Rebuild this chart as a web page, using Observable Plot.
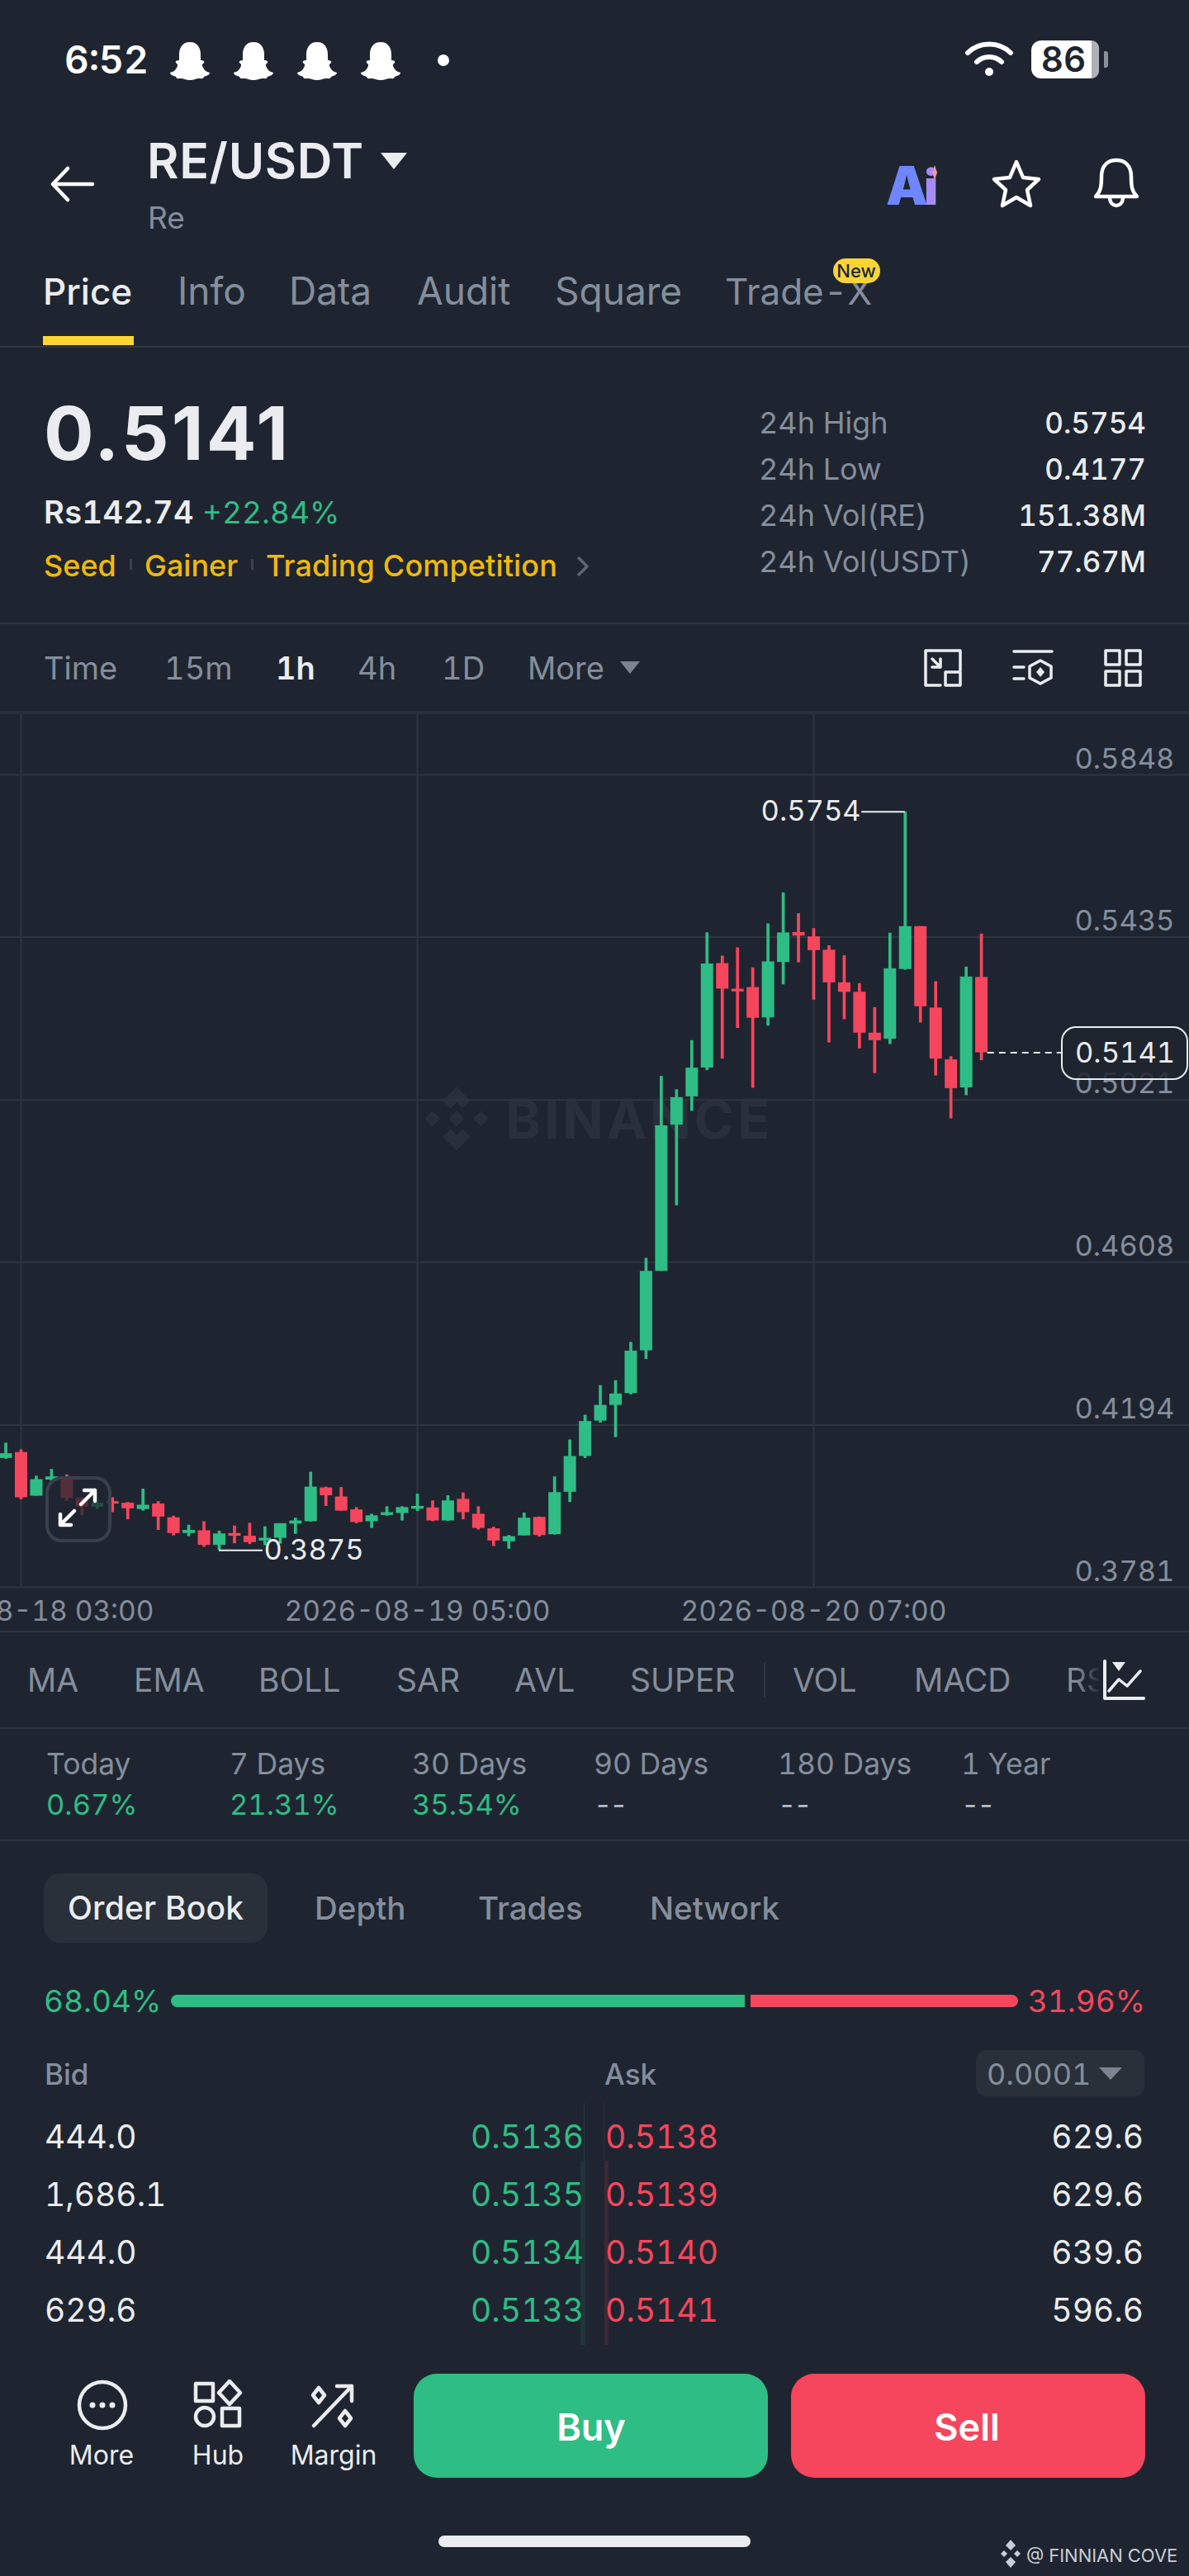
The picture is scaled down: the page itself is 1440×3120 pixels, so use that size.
<!DOCTYPE html>
<html><head><meta charset="utf-8">
<script src="https://cdn.jsdelivr.net/npm/d3@7"></script>
<script src="https://cdn.jsdelivr.net/npm/@observablehq/plot@0.6"></script>
<style>
html,body{margin:0;padding:0;background:#1f2530;}
#page{position:relative;width:1440px;height:3120px;overflow:hidden;background:#1f2530;font-family:Inter,"Noto Sans",sans-serif;font-variant-numeric:tabular-nums;}
.t{position:absolute;line-height:0;white-space:nowrap;}
.b{position:absolute;}
#chart{position:absolute;left:0;top:865px;width:1440px;}
#chart svg{display:block;background:transparent;}
</style></head><body><div id="page"></div>
<script>
// hourly candles, starting 2026-08-18 02:00
const firstHour = "2026-08-18T02:00:00Z";
const open  = [.4109,.4124,.4013,.4054,.4056,.4007,.3985,.3999,.3995,.3979,.3993,.3958,.3918,.3925,.3888,.3918,.3911,.3899,.3906,.3942,.3948,.4034,.4011,.3978,.3948,.3964,.3969,.3980,.3983,.3950,.4005,.3967,.3930,.3897,.3912,.3959,.3915,.4023,.4114,.4204,.4244,.4274,.4383,.4585,.4957,.5029,.5102,.5368,.5303,.5307,.5230,.5371,.5447,.5436,.5402,.5319,.5295,.5191,.5176,.5353,.5462,.5255,.5123,.5052,.5333];
const high  = [.4148,.4131,.4064,.4081,.4067,.4009,.3999,.4009,.3997,.4031,.3999,.3962,.3939,.3948,.3924,.3937,.3944,.3935,.3943,.3957,.4074,.4036,.4035,.3984,.3967,.3986,.3986,.4018,.4001,.4014,.4021,.3986,.3934,.3913,.3970,.3960,.4062,.4156,.4219,.4294,.4307,.4404,.4618,.5081,.5047,.5172,.5446,.5387,.5408,.5357,.5469,.5548,.5495,.5457,.5413,.5388,.5317,.5256,.5445,.5754,.5462,.5322,.5131,.5359,.5443];
const low   = [.4107,.4004,.4013,.4051,.4000,.3963,.3979,.3971,.3953,.3975,.3926,.3912,.3910,.3883,.3875,.3892,.3890,.3887,.3891,.3916,.3947,.3987,.3975,.3943,.3931,.3962,.3950,.3974,.3948,.3949,.3953,.3927,.3885,.3878,.3912,.3909,.3914,.3997,.4109,.4199,.4162,.4271,.4361,.4585,.4752,.4992,.5096,.5125,.5203,.5051,.5209,.5314,.5370,.5275,.5166,.5225,.5151,.5088,.5162,.5351,.5217,.5082,.4973,.5032,.5121];
const close = [.4121,.4009,.4055,.4062,.4007,.3985,.3995,.3993,.3981,.3990,.3960,.3918,.3926,.3888,.3917,.3911,.3895,.3906,.3943,.3950,.4036,.4014,.3975,.3946,.3963,.3971,.3984,.3987,.3950,.4001,.3971,.3931,.3899,.3910,.3957,.3913,.4022,.4114,.4203,.4244,.4273,.4382,.4585,.4955,.5027,.5102,.5367,.5303,.5296,.5229,.5372,.5446,.5438,.5401,.5319,.5295,.5191,.5172,.5355,.5462,.5258,.5125,.5050,.5334,.5141];

const yTicks = [.5848,.5435,.5021,.4608,.4194,.3781];
const yDomain = [.3781,.60013];
const xTicks = ["2026-08-18T03:00:00Z","2026-08-19T05:00:00Z","2026-08-20T07:00:00Z"];
const xDomain = ["2026-08-18T01:38:45Z","2026-08-21T07:38:45Z"];

const highMark = {value:.5754, from:"2026-08-20T13:00:00Z", to:"2026-08-20T10:09:00Z"};
const lowMark  = {value:.3875, from:"2026-08-18T16:00:00Z", to:"2026-08-18T18:52:00Z"};
const lastMark = {value:.5141, from:"2026-08-20T18:25:00Z", to:"2026-08-20T23:15:00Z"};

const tabs = [["Price",52,44],["Info",215,46],["Data",350,46],["Audit",505,46],["Square",672,46],["Trade-X",878,44]];
const stats = [["24h High","0.5754"],["24h Low","0.4177"],["24h Vol(RE)","151.38M"],["24h Vol(USDT)","77.67M"]];
const frames = [["Time",53],["15m",199],["1h",334],["4h",433],["1D",535],["More",639]];
const indicators = [["MA",33],["EMA",162],["BOLL",313],["SAR",480],["AVL",623],["SUPER",763],["VOL",960],["MACD",1107]];
const periods = [["Today","0.67%",56],["7 Days","21.31%",278],["30 Days","35.54%",499],["90 Days","--",719],["180 Days","--",942],["1 Year","--",1164]];
const bookTabs = [["Depth",381],["Trades",579],["Network",787]];
const bidQty = ["444.0","1,686.1","444.0","629.6"];
const bidPrice = ["0.5136","0.5135","0.5134","0.5133"];
const askPrice = ["0.5138","0.5139","0.5140","0.5141"];
const askQty = ["629.6","629.6","639.6","596.6"];
const rowBase = [2602,2672,2742,2812];

const GREEN="#2ebd85",RED="#f6465d",WHITE="#eaecef",GRAY="#848e9c",LINE="#2f3540",YEL="#f0b90b";
const page=document.getElementById("page");
function T(x,base,s,size,color,w=400,anchor="start",ls=0){
  const e=document.createElement("div");e.className="t";e.textContent=s;
  e.style.top=(base-0.364*size)+"px";e.style.fontSize=size+"px";e.style.color=color;e.style.fontWeight=w;
  if(ls)e.style.letterSpacing=ls+"px";
  if(anchor==="start")e.style.left=x+"px";
  else if(anchor==="end")e.style.right=(1440-x)+"px";
  else{e.style.left=x+"px";e.style.transform="translateX(-50%)";}
  page.appendChild(e);return e;
}
function B(x,y,w,h,bg,r=0,extra=""){
  const e=document.createElement("div");e.className="b";
  e.style.cssText=`left:${x}px;top:${y}px;width:${w}px;height:${h}px;background:${bg};border-radius:${r};${extra}`;
  page.appendChild(e);return e;
}
function I(x,y,w,h,vb,inner){
  const d=document.createElement("div");d.className="b";d.style.cssText=`left:${x}px;top:${y}px;width:${w}px;height:${h}px;`;
  d.innerHTML=`<svg xmlns="http://www.w3.org/2000/svg" width="${w}" height="${h}" viewBox="${vb}" style="display:block">${inner}</svg>`;
  page.appendChild(d);return d;
}
const s=(c=WHITE,w=4)=>`fill="none" stroke="${c}" stroke-width="${w}" stroke-linecap="round" stroke-linejoin="round"`;

// status bar
T(78,89,"6:52",46,"#fff",600);
const ghost='<path fill="#fff" d="M24 0C14 0 11 8 11 15C11 19 11 20 11 22C8 22 6 23 7 25C9 27 10 27 8 31C6 35 3 36 0 37C0 40 5 41 7 42C8 45 10 44 13 44C16 44 19 46 24 46C29 46 32 44 35 44C38 44 40 45 41 42C43 41 48 40 48 37C45 36 42 35 40 31C38 27 39 27 41 25C42 23 40 22 37 22C37 20 37 19 37 15C37 8 34 0 24 0Z"/>';
[206,283,360,437].forEach(x=>I(x,51,48,46,"0 0 48 46",ghost));
B(530,66,14,14,"#fff","50%");
I(1168,49,60,46,"0 0 60 46",`<path ${s("#fff",6)} d="M4 15C18 1 42 1 56 15"/><path ${s("#fff",6)} d="M15 26C23 18 37 18 45 26"/><circle cx="30" cy="38" r="5" fill="#fff"/>`);
B(1249,49,82,46,"#fff","12px");
B(1322,49,9,46,"#aeb2b8","0 12px 12px 0");
B(1337,62,5,20,"#8b9098","0 3px 3px 0");
T(1288,87,"86",42,"#1f2530",600,"middle");

// header
I(60,200,56,46,"0 0 56 46",`<path ${s("#fff",4.5)} d="M52 23H4M22 4L4 23L22 42"/>`);
T(178,216,"RE/USDT",59,WHITE,600,"start",.7);
I(461,185,32,20,"0 0 32 20",`<path fill="${WHITE}" d="M0 0H32L16 20Z"/>`);
T(179,277,"Re",37,GRAY);
T(1073,248,"A",64,"#6f86ff",900);
T(1119,248,"i",58,"#a48bf5",900);
I(1126,200,12,18,"0 0 12 18",`<path fill="#e89aa0" d="M6 0L9 9L6 18L3 9Z"/>`);
I(1200,193,62,60,"0 0 62 60",`<path ${s("#fff",4.5)} d="M31 3L39 22L58 24L44 37L48 56L31 46L14 56L18 37L4 24L23 22Z"/>`);
I(1321,190,62,64,"0 0 62 64",`<path ${s("#fff",4.5)} d="M6 48C12 42 13 36 13 24C13 10 21 4 31 4C41 4 49 10 49 24C49 36 50 42 56 48Z"/><path ${s("#fff",4.5)} d="M23 50C24 62 38 62 39 50"/>`);

// tabs
tabs.forEach(([n,x,z],i)=>T(x,369,n,z,i?GRAY:WHITE,i?400:500));
B(1009,313,57,30,"#fcd535","15px");
T(1037,336,"New",22,"#1f2530",500,"middle");
B(52,407,110,11,"#fcd535");
B(0,419,1440,2,LINE);

// price block
const big=T(53,558,"0.5141",90,WHITE,700,"start",3.2);big.style.fontVariantNumeric="proportional-nums";
T(53,634,"Rs142.74",38,WHITE,600,"start",.4);
T(245,634,"+22.84%",37,GREEN);
T(53,698,"Seed",36,YEL,500);T(175,698,"Gainer",36,YEL,500);T(322,698,"Trading Competition",36,YEL,500,"start",.15);
B(157,677,3,13,"#3a414d");B(304,677,3,13,"#3a414d");
I(698,673,16,26,"0 0 16 26",`<path ${s("#5e6673",3.5)} d="M3 3L13 13L3 23"/>`);
stats.forEach(([a,b],i)=>{const y=[525,581,637,693][i];T(919,y,a,36,GRAY);T(1388,y,b,35,WHITE,500,"end");});
B(0,754,1440,2,LINE);

// timeframes
frames.forEach(([n,x])=>T(x,823,n,38,n==="1h"?WHITE:GRAY,n==="1h"?600:400));
I(751,801,24,15,"0 0 24 15",`<path fill="#7c8492" d="M0 0H24L12 15Z"/>`);
I(1119,786,46,46,"0 0 46 46",`<path ${s(WHITE,3.5)} d="M44 26V2H2V44H20"/><rect x="26" y="28" width="18" height="16" ${s(WHITE,3.5)}/><path ${s(WHITE,3.5)} d="M10 12L20 22M20 12V22H10"/>`);
I(1226,786,50,46,"0 0 50 46",`<path ${s(WHITE,3.5)} d="M2 3H48M2 22H14M2 36H14"/><path ${s(WHITE,3.5)} d="M34 14L47 21V35L34 42L21 35V21Z"/><path fill="${WHITE}" d="M34 22L39 28L34 34L29 28Z"/>`);
I(1337,786,46,46,"0 0 46 46",`<g ${s(WHITE,3.5)}><rect x="2" y="2" width="17" height="17"/><rect x="27" y="2" width="17" height="17"/><rect x="2" y="27" width="17" height="17"/><rect x="27" y="27" width="17" height="17"/></g>`);
B(0,861,1440,4,"#2a303b");

// watermark under the chart
I(510,1312,86,86,"0 0 82 82",`<g fill="#2a303b"><path d="M41 4L57 20L48 29L41 22L34 29L25 20Z"/><path d="M41 78L57 62L48 53L41 60L34 53L25 62Z"/><path d="M4 41L13 32L22 41L13 50Z"/><path d="M60 41L69 32L78 41L69 50Z"/><path d="M41 32L50 41L41 50L32 41Z"/></g>`);
T(612,1380,"BINANCE",65,"#2a303b",700,"start",4);

// chart
const chartDiv=document.createElement("div");chartDiv.id="chart";page.appendChild(chartDiv);
const t0=new Date(firstHour);
const candles=open.map((o,i)=>({t:d3.utcHour.offset(t0,i),o,h:high[i],l:low[i],c:close[i]}));
const col=d=>d.c>=d.o?GREEN:RED;
const tickDates=xTicks.map(d=>new Date(d));
const plot=Plot.plot({
  width:1440,height:1111,
  marginLeft:0,marginRight:0,marginTop:0,marginBottom:54,
  style:{background:"transparent",fontFamily:"Inter,'Noto Sans',sans-serif",fontVariantNumeric:"tabular-nums"},
  x:{type:"utc",domain:xDomain.map(d=>new Date(d)),axis:null},
  y:{domain:yDomain,axis:null},
  marks:[
    Plot.gridX(tickDates,{stroke:"#2f3540",strokeOpacity:1,strokeWidth:2}),
    Plot.gridY(yTicks,{stroke:"#2f3540",strokeOpacity:1,strokeWidth:2}),
    Plot.axisY(yTicks,{anchor:"right",tickSize:0,tickPadding:-18,textAnchor:"end",dy:-19,fontSize:34.5,fill:GRAY,label:null,tickFormat:d=>d.toFixed(4)}),
    Plot.axisX(tickDates,{anchor:"bottom",tickSize:0,tickPadding:17,fontSize:33.5,fill:GRAY,label:null,tickFormat:d3.utcFormat("%Y-%m-%d %H:%M")}),
    Plot.ruleX(candles,{x:"t",y1:"l",y2:"h",stroke:col,strokeWidth:3.7}),
    Plot.ruleX(candles,{x:"t",y1:"o",y2:"c",stroke:col,strokeWidth:15}),
    Plot.ruleY([highMark,lowMark],{y:"value",x1:d=>new Date(d.from),x2:d=>new Date(d.to),stroke:WHITE,strokeWidth:2}),
    Plot.text([highMark],{x:d=>new Date(d.to),y:"value",text:d=>d.value.toFixed(4),textAnchor:"end",dx:-1,fontSize:34.5,fill:WHITE}),
    Plot.text([lowMark],{x:d=>new Date(d.to),y:"value",text:d=>d.value.toFixed(4),textAnchor:"start",dx:1,fontSize:34.5,fill:WHITE}),
    Plot.ruleY([lastMark],{y:"value",x1:d=>new Date(d.from),x2:d=>new Date(d.to),stroke:WHITE,strokeWidth:2,strokeDasharray:"8,6"})
  ]
});
chartDiv.appendChild(plot);

// last price tag and expand button above the chart
B(1285,1243,150,61,"rgba(31,37,48,.86)","18px","border:2px solid #eaecef;");
T(1302,1288,"0.5141",34.5,WHITE);
B(55,1788,72,72,"rgba(31,37,48,.75)","20px","border:4px solid #39404b;");
I(68,1800,52,52,"0 0 52 52",`<path ${s("#fff",4.5)} d="M30 22L47 5M34 5H47V18M22 30L5 47M5 34V47H18"/>`);

// below chart
B(0,1975,1440,2,LINE);
indicators.forEach(([n,x])=>T(x,2049,n,39,GRAY));
const rsiBox=B(1291,2010,42,50,"transparent",0,"overflow:hidden;-webkit-mask-image:linear-gradient(to right,#000 30%,transparent 100%);mask-image:linear-gradient(to right,#000 30%,transparent 100%);");
const rsi=document.createElement("div");rsi.textContent="RSI";rsi.style.cssText=`font-size:39px;line-height:50px;color:${GRAY};white-space:nowrap;`;rsiBox.appendChild(rsi);
B(925,2014,2,42,LINE);
I(1335,2010,52,50,"0 0 52 50",`<path ${s(WHITE,4)} d="M3 2V47H50"/><path ${s(WHITE,3.5)} d="M8 38L20 24L30 32L46 14"/><path fill="${WHITE}" d="M12 3H28L20 14Z"/>`);
B(0,2092,1440,2,LINE);
periods.forEach(([a,b,x])=>{T(x,2150,a,35.5,GRAY);T(x,2199,b,34.5,b==="--"?"#b7bdc6":GREEN,400,"start",b==="--"?-3:0);});
B(0,2228,1440,2,LINE);
B(53,2269,271,84,"#29303a","20px");
T(82,2325,"Order Book",39,WHITE,500,"start",.2);
bookTabs.forEach(([n,x])=>T(x,2325,n,38.5,GRAY,500));
T(53,2437,"68.04%",37,GREEN);
B(207,2416,695,15,GREEN,"8px 0 0 8px");
B(909,2416,324,15,RED,"0 8px 8px 0");
T(1387,2437,"31.96%",37,RED,400,"end");
T(54,2525,"Bid",35,GRAY,500);T(732,2525,"Ask",35,GRAY,500);
B(1182,2483,204,56,"#29303a","12px");
T(1195,2525,"0.0001",36,GRAY);
I(1331,2504,28,15,"0 0 28 15",`<path fill="#7c8492" d="M0 0H28L14 15Z"/>`);
B(707,2547,1,70,"rgba(46,189,133,.15)");B(731,2547,1,70,"rgba(246,70,93,.15)");
B(703,2617,6,223,"rgba(46,189,133,.1)");B(732,2617,5,223,"rgba(246,70,93,.14)");
rowBase.forEach((y,i)=>{
  T(54,y,bidQty[i],39,WHITE);T(707,y,bidPrice[i],39,GREEN,400,"end");
  T(733,y,askPrice[i],39,RED);T(1385,y,askQty[i],39,WHITE,400,"end");
});

// bottom bar
I(92,2881,64,64,"0 0 64 64",`<circle cx="32" cy="32" r="28" ${s(WHITE,4.5)}/><g fill="${WHITE}"><circle cx="20" cy="32" r="3.5"/><circle cx="32" cy="32" r="3.5"/><circle cx="44" cy="32" r="3.5"/></g>`);
I(234,2882,60,60,"0 0 60 60",`<g ${s(WHITE,4.5)}><rect x="3" y="5" width="21" height="21"/><path d="M44 2L57 16L44 30L31 16Z"/><circle cx="14" cy="45" r="11"/><rect x="35" y="35" width="21" height="21"/></g>`);
I(374,2884,60,60,"0 0 60 60",`<g ${s(WHITE,4.5)}><path d="M6 54L52 6M34 6H52V24"/><path d="M12 8L19 17L12 26L5 17Z"/><path d="M44 36L51 45L44 54L37 45Z"/></g>`);
T(123,2986,"More",32,WHITE,400,"middle");T(264,2986,"Hub",32,WHITE,400,"middle");T(404,2986,"Margin",32,WHITE,400,"middle");
B(501,2875,429,126,GREEN,"28px");
B(958,2875,429,126,RED,"28px");
T(716,2956,"Buy",45,"#fff",600,"middle");T(1171,2956,"Sell",45,"#fff",600,"middle");
B(531,3071,378,14,WHITE,"7px");
I(1210,3076,28,34,"0 0 28 34",`<g fill="#c9ced6"><path d="M14 0L20 7L14 13L8 7Z"/><path d="M14 34L20 27L14 21L8 27Z"/><path d="M2 17L6 13L10 17L6 21Z"/><path d="M18 17L22 13L26 17L22 21Z"/></g>`);
T(1243,3103,"@ FINNIAN COVE",22,"#c9ced6");
</script></body></html>
